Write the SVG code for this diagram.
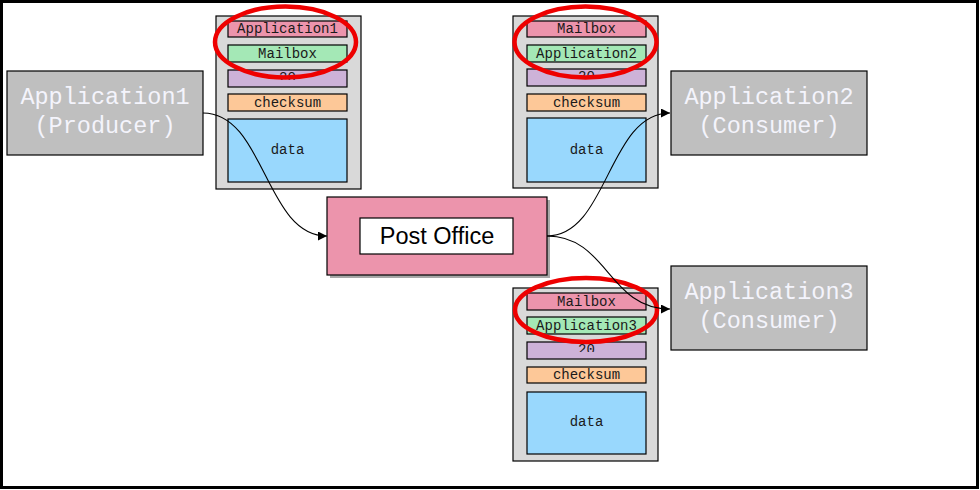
<svg xmlns="http://www.w3.org/2000/svg" width="980" height="490" viewBox="0 0 980 490">
<style>
.app{fill:#bfbfbf;stroke:#000;stroke-width:1.2}
.apptxt{font-family:"Liberation Mono","Courier New",monospace;font-size:23.5px;fill:#f4f4fc;text-anchor:middle}
.pkt{fill:#d9d9d9;stroke:#000;stroke-width:1.2}
.row{stroke:#000;stroke-width:1.2}
.pink{fill:#ec94ac}
.green{fill:#a4e8b6}
.purple{fill:#cdb2d8}
.orange{fill:#fdc898}
.blue{fill:#99d8fd}
.ptxt{font-family:"Liberation Mono","Courier New",monospace;font-size:14px;fill:#1a1a1a;text-anchor:middle}
.ring{fill:none;stroke:#ee0000;stroke-width:4.5}
.conn{fill:none;stroke:#000;stroke-width:1.1;marker-end:url(#arr)}
</style>
<defs>
<marker id="arr" viewBox="0 0 10 10" refX="10" refY="5" markerWidth="9" markerHeight="9" markerUnits="userSpaceOnUse" orient="auto">
<path d="M0,0 L10,5 L0,10 z" fill="#000"/>
</marker>
<clipPath id="c1"><rect x="228" y="70" width="119" height="10"/></clipPath>
<clipPath id="c2"><rect x="527" y="69" width="119" height="10"/></clipPath>
<clipPath id="c3"><rect x="527" y="342" width="119" height="10"/></clipPath>
</defs>
<rect x="0" y="0" width="980" height="490" fill="#fff"/>
<rect x="1.5" y="1.5" width="976" height="486" fill="none" stroke="#000" stroke-width="3"/>

<g id="app1">
<rect class="app" x="7" y="71" width="196" height="84"/>
<text class="apptxt" x="105" y="104">Application1</text>
<text class="apptxt" x="105" y="133">(Producer)</text>
</g>
<g id="app2">
<rect class="app" x="671" y="71" width="196" height="84"/>
<text class="apptxt" x="769" y="104">Application2</text>
<text class="apptxt" x="769" y="133">(Consumer)</text>
</g>
<g id="app3">
<rect class="app" x="671" y="266" width="196" height="84"/>
<text class="apptxt" x="769" y="299">Application3</text>
<text class="apptxt" x="769" y="328">(Consumer)</text>
</g>

<g id="postoffice">
<rect x="330" y="200" width="220" height="78" fill="#6e6e6e" opacity="0.6"/>
<rect x="327" y="197" width="220" height="78" fill="#ec94ac" stroke="#000" stroke-width="1.2"/>
<rect x="360" y="218" width="153" height="36" fill="#fff" stroke="#000" stroke-width="1.2"/>
<text x="437" y="244" font-family="'Liberation Sans',Arial,sans-serif" font-size="23.5" text-anchor="middle" fill="#000">Post Office</text>
</g>

<g id="packet1">
<rect class="pkt" x="216" y="16" width="145" height="173"/>
<rect class="row pink" x="228" y="21" width="119" height="16"/>
<text class="ptxt" x="287.5" y="33">Application1</text>
<rect class="row green" x="228" y="45" width="119" height="17"/>
<text class="ptxt" x="287.5" y="57.5">Mailbox</text>
<rect class="row purple" x="228" y="70" width="119" height="17"/>
<text class="ptxt" x="287.5" y="82" clip-path="url(#c1)">20</text>
<rect class="row orange" x="228" y="94" width="119" height="17"/>
<text class="ptxt" x="287.5" y="106.5">checksum</text>
<rect class="row blue" x="228" y="119" width="119" height="63"/>
<text class="ptxt" x="287.5" y="154">data</text>
</g>

<g id="packet2">
<rect class="pkt" x="513" y="16" width="145" height="172"/>
<rect class="row pink" x="527" y="21" width="119" height="16"/>
<text class="ptxt" x="586.5" y="33">Mailbox</text>
<rect class="row green" x="527" y="45" width="119" height="17"/>
<text class="ptxt" x="586.5" y="57.5">Application2</text>
<rect class="row purple" x="527" y="69" width="119" height="17"/>
<text class="ptxt" x="586.5" y="81" clip-path="url(#c2)">20</text>
<rect class="row orange" x="527" y="94" width="119" height="17"/>
<text class="ptxt" x="586.5" y="106.5">checksum</text>
<rect class="row blue" x="527" y="118" width="119" height="64"/>
<text class="ptxt" x="586.5" y="154">data</text>
</g>

<g id="packet3">
<rect class="pkt" x="513" y="288" width="145" height="173"/>
<rect class="row pink" x="527" y="293" width="119" height="17"/>
<text class="ptxt" x="586.5" y="305.5">Mailbox</text>
<rect class="row green" x="527" y="317" width="119" height="17"/>
<text class="ptxt" x="586.5" y="329.5">Application3</text>
<rect class="row purple" x="527" y="342" width="119" height="17"/>
<text class="ptxt" x="586.5" y="354" clip-path="url(#c3)">20</text>
<rect class="row orange" x="527" y="367" width="119" height="16"/>
<text class="ptxt" x="586.5" y="379">checksum</text>
<rect class="row blue" x="527" y="392" width="119" height="62"/>
<text class="ptxt" x="586.5" y="426">data</text>
</g>

<g id="highlights">
<ellipse class="ring" cx="285.5" cy="42" rx="70.5" ry="35.5"/>
<ellipse class="ring" cx="585.5" cy="42" rx="71" ry="35.5"/>
<ellipse class="ring" cx="586" cy="310" rx="71" ry="32"/>
</g>

<g id="connectors">
<path class="conn" d="M203,113 C265,113 265,236 327,236"/>
<path class="conn" d="M547,236 C608,236 608,113 670,113"/>
<path class="conn" d="M547,236 C608,236 608,309 670,309"/>
</g>
</svg>
